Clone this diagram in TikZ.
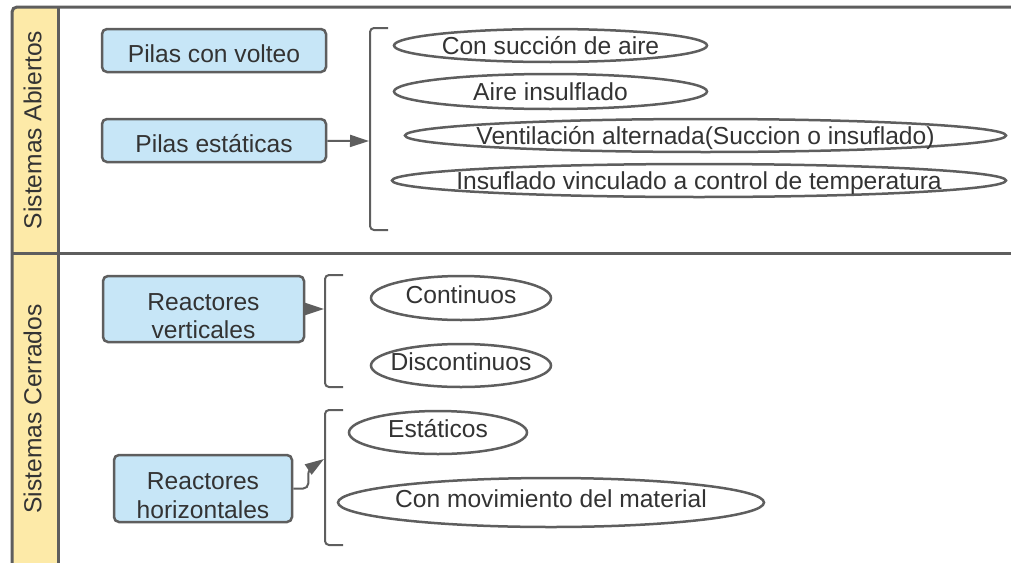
\documentclass[tikz,border=0pt]{standalone}
\usepackage{fontspec}
\setmainfont{Liberation Sans}
\usetikzlibrary{shapes.geometric,arrows.meta}

\definecolor{gris}{RGB}{94,94,94}
\definecolor{texto}{RGB}{51,51,51}
\definecolor{celeste}{RGB}{199,230,247}
\definecolor{amarillo}{RGB}{253,234,168}

\newcommand{\op}[1]{\makebox[0pt]{#1}}
\newcommand{\alto}[1]{\rule{0pt}{#1}}

\tikzset{
  caja/.style={draw=gris, fill=celeste, line width=2.5pt, rounded corners=5pt, inner sep=0pt, align=center},
  opcion/.style={draw=gris, ellipse, line width=2.5pt, inner sep=0pt, text height=18pt, text depth=0pt},
  subir/.style={text depth=8pt},
  llave/.style={draw=gris, line width=2pt, rounded corners=4pt},
  flecha/.style={draw=gris, line width=2pt, -{Triangle[length=19pt,width=12pt]}},
  carril/.style={draw=gris, line width=3pt}
}

\begin{document}
\begin{tikzpicture}[x=1pt, y=-1pt, every node/.style={font=\fontsize{24.6pt}{28.5pt}\selectfont, text=texto}]
    \useasboundingbox (0,0) rectangle (1011,562);
    \clip (0,0) rectangle (1011,562);

    % carriles
    \fill[amarillo] (58,7) [rounded corners=5pt] -- (12,7) [sharp corners] -- (12,570) -- (58,570) -- cycle;
    \draw[carril, rounded corners=5pt] (1020,7) -- (12,7) -- (12,570);
    \draw[carril] (58,7) -- (58,570);
    \draw[carril] (12,253) -- (1020,253);
    \node[rotate=90] (abiertos) at (32.5,130) {Sistemas Abiertos};
    \node[rotate=90] (cerrados) at (32.5,409) {Sistemas Cerrados};

    % cajas
    \node[caja, minimum width=224pt, minimum height=43pt] (volteo) at (214,50.5) {\alto{23.6pt}Pilas con volteo};
    \node[caja, minimum width=224pt, minimum height=43pt] (estaticas) at (214,140.5) {\alto{23.6pt}Pilas estáticas};
    \node[caja, minimum width=201pt, minimum height=66pt] (verticales) at (203.5,309) {\alto{31pt}Reactores\\verticales};
    \node[caja, minimum width=178pt, minimum height=67pt] (horizontales) at (203,488.5) {\alto{31pt}Reactores\\horizontales};

    % llaves
    \foreach \bx/\arriba/\abajo in {370/28/230, 325/275/387, 325/410/545}{
        \draw[llave] (\bx+18,\arriba) -- (\bx,\arriba) -- (\bx,\abajo) -- (\bx+18,\abajo);
    }
    \coordinate (llave1) at (369,141);
    \coordinate (llave2) at (324,309);
    \coordinate (llave3) at (324,459);

    % opciones
    \node[opcion, minimum width=313pt, minimum height=33pt] (succion) at (550.5,45.5) {\op{Con succión de aire}};
    \node[opcion, minimum width=313pt, minimum height=35pt] (insuflado) at (550.5,91.5) {\op{Aire insulflado}};
    \node[opcion, minimum width=601pt, minimum height=33pt] (alternada) at (705.5,135.5) {\op{Ventilación alternada(Succion o insuflado)}};
    \node[opcion, minimum width=614pt, minimum height=33pt] (vinculado) at (699,180.5) {\op{Insuflado vinculado a control de temperatura}};
    \node[opcion, subir, minimum width=180pt, minimum height=44pt] (continuos) at (461,298) {\op{Continuos}};
    \node[opcion, subir, minimum width=180pt, minimum height=43pt] (discontinuos) at (461,365.5) {\op{Discontinuos}};
    \node[opcion, subir, minimum width=178pt, minimum height=43pt] (estaticos) at (438,432.5) {\op{Estáticos}};
    \node[opcion, subir, minimum width=426pt, minimum height=49pt] (movimiento) at (551,502.5) {\op{Con movimiento del material}};

    % flechas
    \draw[flecha] (estaticas) -- (llave1);
    \draw[flecha] (verticales) -- (llave2);
    \draw[flecha, rounded corners=5pt] (horizontales.east) -- ++(15,0) -- ++(0,-19) -- (llave3);

\end{tikzpicture}
\end{document}
